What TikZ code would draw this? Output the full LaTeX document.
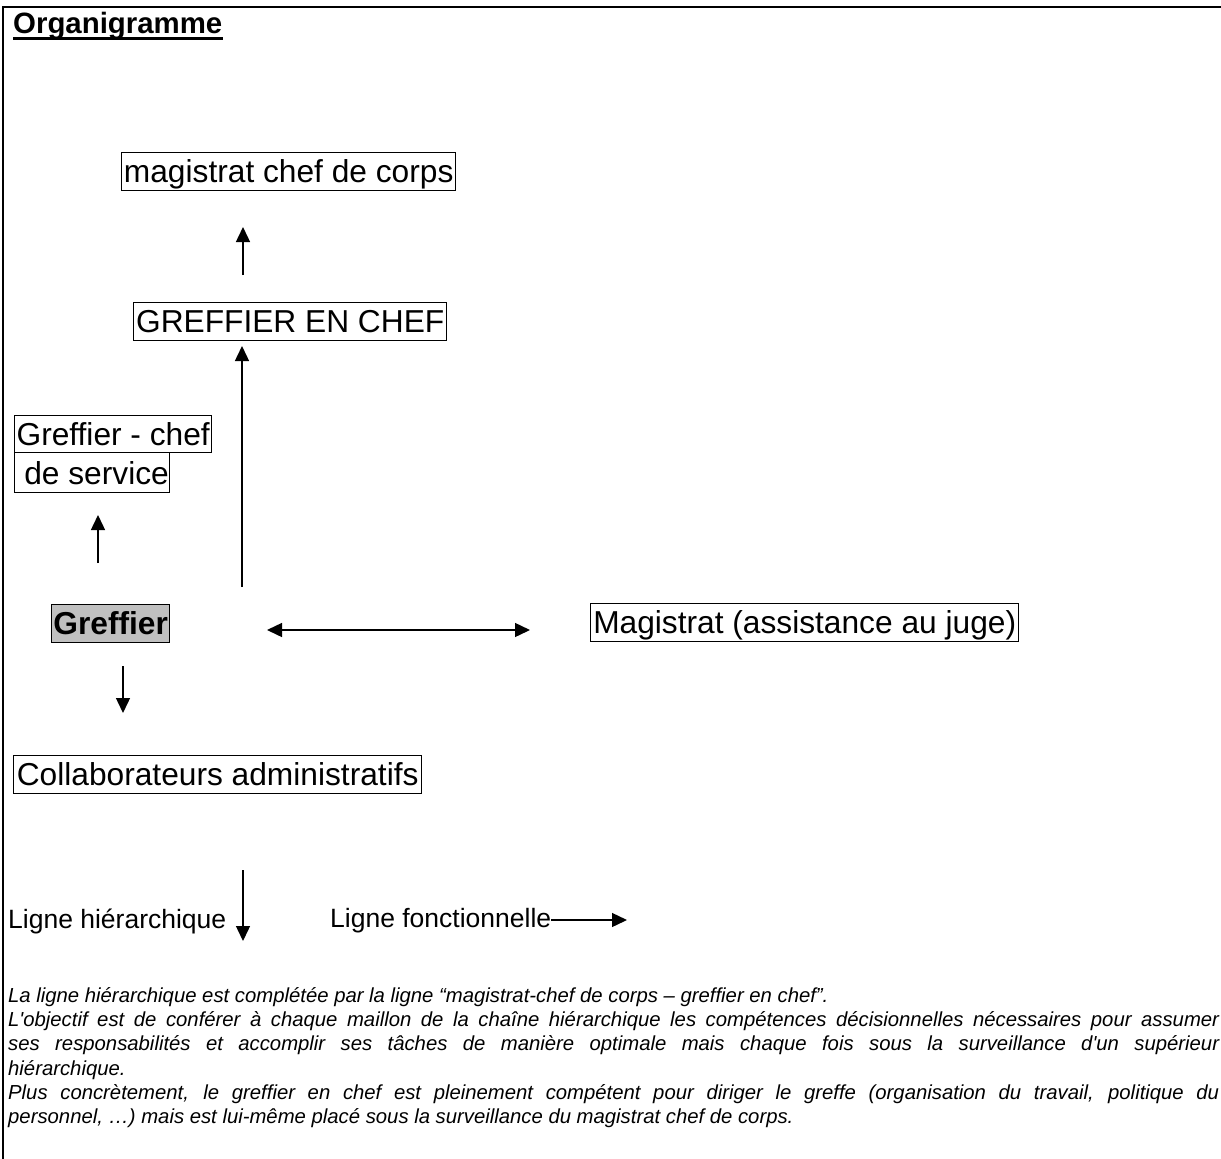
\documentclass[tikz,border=0pt]{standalone}
\usepackage{fontspec}
\setmainfont{Liberation Sans}[Ligatures={TeXOff,CommonOff}]
\usetikzlibrary{arrows.meta,calc}
\begin{document}
\begin{tikzpicture}[x=1pt,y=-1pt,
  box/.style={draw, line width=1.4pt, inner xsep=0pt, inner ysep=1pt, anchor=north west,
    text height=29pt, text depth=7pt, font=\fontsize{31.7}{36}\selectfont},
  arr/.style={line width=1.4pt, -{Triangle[length=15pt,width=14pt]}},
  darr/.style={line width=1.4pt, {Triangle[length=15pt,width=14pt]}-{Triangle[length=15pt,width=14pt]}},
  plain/.style={anchor=base west, inner sep=0pt},
  para/.style={plain, font=\itshape\fontsize{20.3}{24}\selectfont}]
\useasboundingbox (0,0) rectangle (1221,1159);
% frame
\draw[line width=2pt] (3,1159) -- (3,6.5) -- (1221,6.5);
% title
\node[plain, font=\bfseries\fontsize{29.4}{34}\selectfont] (title) at (13,33) {Organigramme};
\draw[line width=2.6pt] ($(title.base west)+(0,5.5)$) -- ($(title.base east)+(0,5.5)$);
% boxes
\node[box, minimum width=334pt] (mcc) at (121,152) {magistrat chef de corps};
\node[box, minimum width=313pt] (gec) at (133,302) {GREFFIER EN CHEF};
\node[box, minimum width=197pt, text depth=6pt] (gcs1) at (14,415) {Greffier - chef};
\node[box, minimum width=155pt, text height=31pt, text depth=7pt] (gcs2) at (14,452) {\ de service};
\node[box, minimum width=118pt, fill={rgb,255:red,192;green,192;blue,192}, font=\bfseries\fontsize{31.7}{36}\selectfont] (gre) at (51,604) {Greffier};
\node[box, minimum width=428pt] (mag) at (590,603) {Magistrat (assistance au juge)};
\node[box, minimum width=408pt] (col) at (13,755) {Collaborateurs administratifs};
% connector ends
\coordinate (a1s) at (243,275); \coordinate (a1e) at (243,227);
\coordinate (a2s) at (242,587); \coordinate (a2e) at (242,346);
\coordinate (a3s) at (98,563);  \coordinate (a3e) at (98,515);
\coordinate (a4s) at (123,666); \coordinate (a4e) at (123,713);
\coordinate (a5s) at (267,630); \coordinate (a5e) at (530,630);
\draw[arr] (a1s) -- (a1e);
\draw[arr] (a2s) -- (a2e);
\draw[arr] (a3s) -- (a3e);
\draw[arr] (a4s) -- (a4e);
\draw[darr] (a5s) -- (a5e);
% legend
\node[plain, font=\fontsize{26.5}{31}\selectfont] (lh) at (8,928) {Ligne hiérarchique};
\node[plain, font=\fontsize{26.5}{31}\selectfont] (lf) at (330,927) {Ligne fonctionnelle};
\coordinate (lht) at (243,870); \coordinate (lhb) at (243,941);
\coordinate (lfe) at (627,920);
\draw[arr] (lht) -- (lhb);
\draw[arr] (lf.east |- lfe) -- (lfe);
% paragraph
\node[para] (p1) at (8,1002) {La ligne hiérarchique est complétée par la ligne “magistrat-chef de corps – greffier en chef”.};
\node[para] (p2) at (8,1026) {\hbox to 1211pt{L'objectif est de conférer à chaque maillon de la chaîne hiérarchique les compétences décisionnelles nécessaires pour assumer}};
\node[para] (p3) at (8,1050.5) {\hbox to 1211pt{ses responsabilités et accomplir ses tâches de manière optimale mais chaque fois sous la surveillance d'un supérieur}};
\node[para] (p4) at (8,1075) {hiérarchique.};
\node[para] (p5) at (8,1099) {\hbox to 1211pt{Plus concrètement, le greffier en chef est pleinement compétent pour diriger le greffe (organisation du travail, politique du}};
\node[para] (p6) at (8,1123) {personnel, …) mais est lui-même placé sous la surveillance du magistrat chef de corps.};
\end{tikzpicture}
\end{document}
